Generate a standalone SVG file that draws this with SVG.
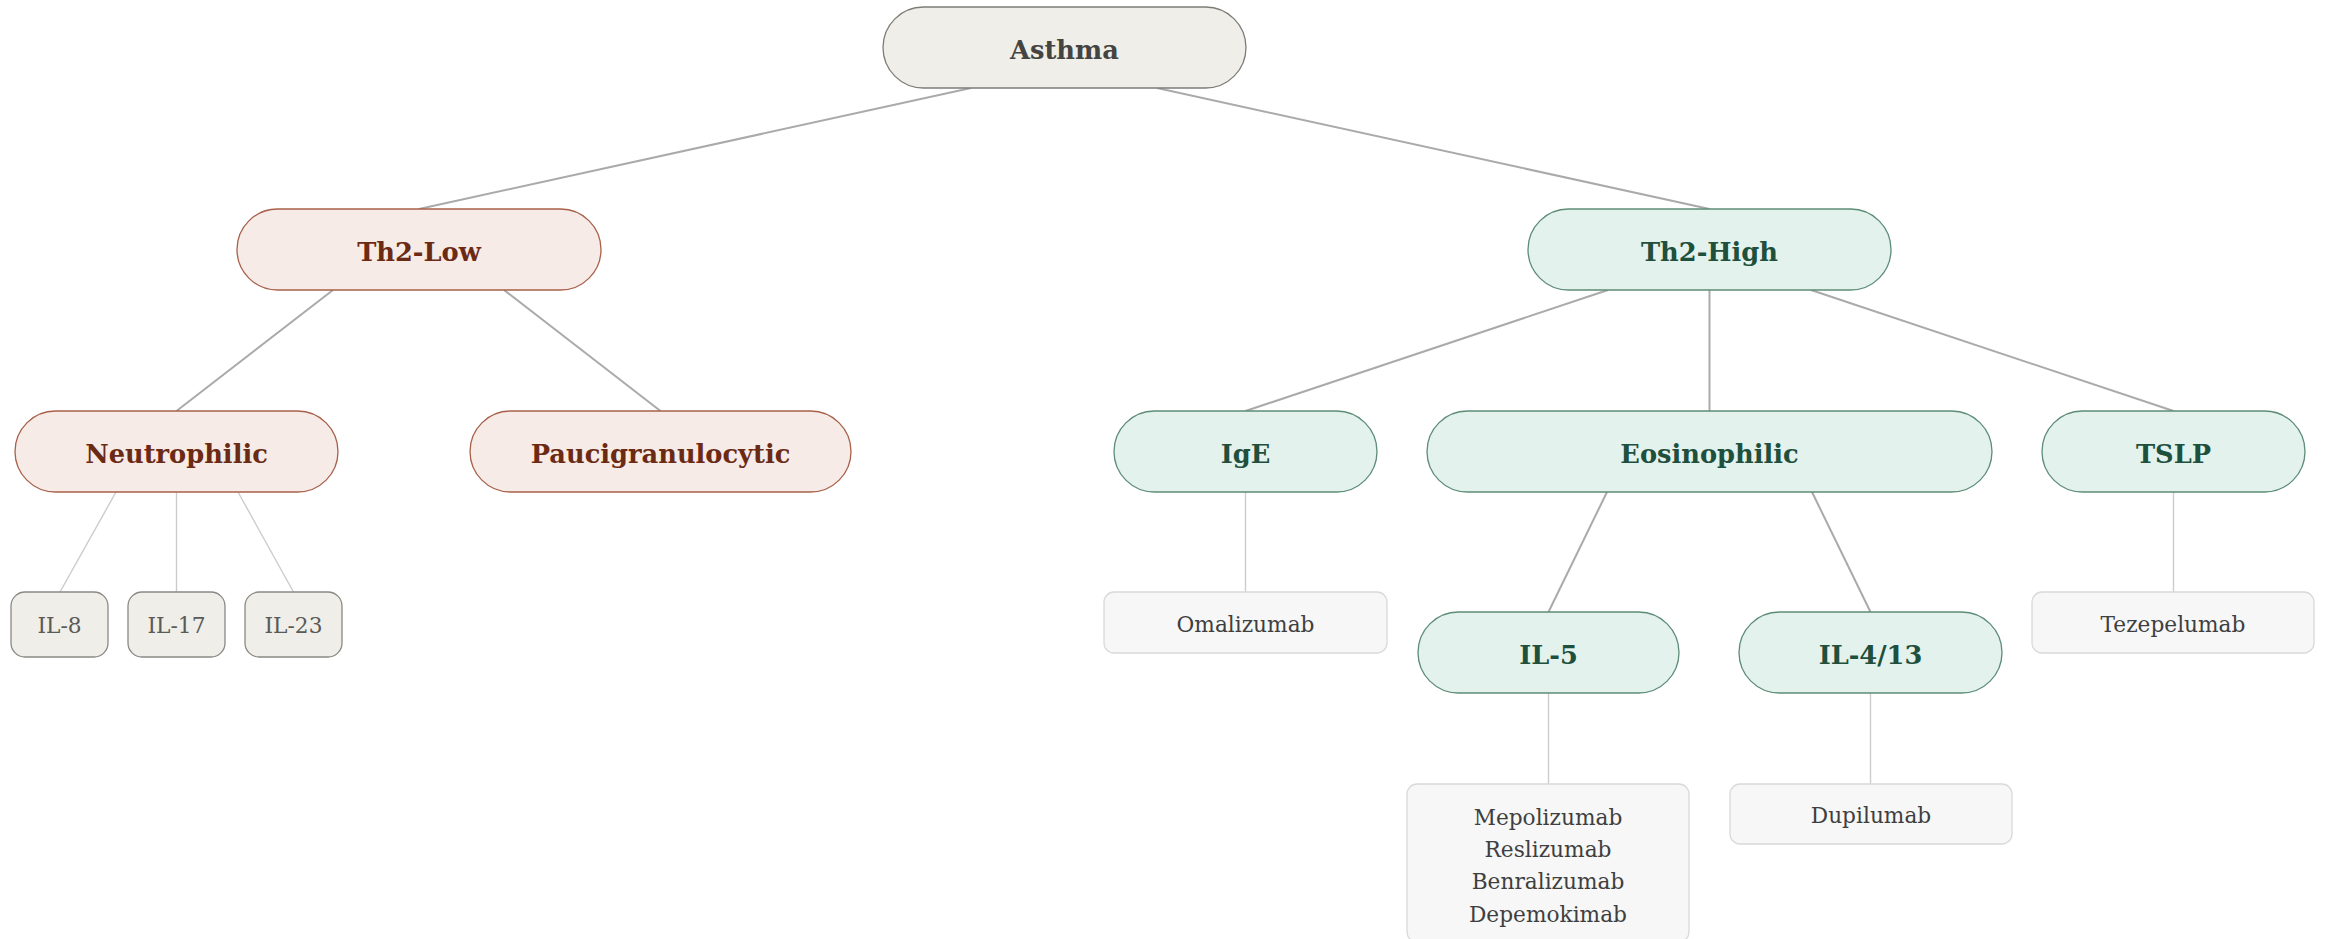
<svg xmlns="http://www.w3.org/2000/svg" width="2325" height="939" viewBox="0 0 2325 939">
<style>
text{font-family:"DejaVu Serif","Liberation Serif",serif;text-anchor:middle}
.b{font-weight:bold;font-size:25.7px}
.r{font-size:21.7px}
.root rect{fill:#efeee9;stroke:#7d7c77;stroke-width:1.3}
.root text{fill:#444441}
.low rect{fill:#f7ebe7;stroke:#a8604a;stroke-width:1.3}
.low text{fill:#6b2a14}
.high rect{fill:#e3f2ec;stroke:#5d8c77;stroke-width:1.3}
.high text{fill:#1f4f3d}
.cyt rect{fill:#efeee9;stroke:#8a8984;stroke-width:1.3}
.cyt text{fill:#5a5a57}
.drug rect{fill:#f7f7f7;stroke:#d9d9d9;stroke-width:1.3}
.drug text{fill:#3f3f3f}
.main line{stroke:#aaaaaa;stroke-width:2}
.leaf line{stroke:#cccccc;stroke-width:1.4}
</style>
<g id="connectors">
<g class="main">
<line x1="971" y1="88" x2="419" y2="209"/>
<line x1="1157" y1="88" x2="1709.5" y2="209"/>
<line x1="333" y1="290" x2="176.5" y2="411"/>
<line x1="504" y1="290" x2="660.5" y2="411"/>
<line x1="1608" y1="290" x2="1245.5" y2="411"/>
<line x1="1709.5" y1="290" x2="1709.5" y2="411"/>
<line x1="1811" y1="290" x2="2173.5" y2="411"/>
<line x1="1607" y1="492" x2="1548.5" y2="612"/>
<line x1="1812" y1="492" x2="1870.5" y2="612"/>
</g>
<g class="leaf">
<line x1="116" y1="492" x2="60" y2="592"/>
<line x1="176.5" y1="492" x2="176.5" y2="592"/>
<line x1="238" y1="492" x2="293.5" y2="592"/>
<line x1="1245.5" y1="492" x2="1245.5" y2="592"/>
<line x1="2173.5" y1="492" x2="2173.5" y2="592"/>
<line x1="1548.5" y1="693" x2="1548.5" y2="784"/>
<line x1="1870.5" y1="693" x2="1870.5" y2="784"/>
</g>
</g>
<g id="asthma" class="root"><rect x="883" y="7" width="363" height="81" rx="40.5"/><text class="b" x="1064.5" y="58.5">Asthma</text></g>
<g id="th2low" class="low"><rect x="237" y="209" width="364" height="81" rx="40.5"/><text class="b" x="419" y="260.5">Th2-Low</text></g>
<g id="th2high" class="high"><rect x="1528" y="209" width="363" height="81" rx="40.5"/><text class="b" x="1709.5" y="260.5">Th2-High</text></g>
<g id="neutrophilic" class="low"><rect x="15" y="411" width="323" height="81" rx="40.5"/><text class="b" x="176.5" y="462.5">Neutrophilic</text></g>
<g id="pauci" class="low"><rect x="470" y="411" width="381" height="81" rx="40.5"/><text class="b" x="660.5" y="462.5">Paucigranulocytic</text></g>
<g id="ige" class="high"><rect x="1114" y="411" width="263" height="81" rx="40.5"/><text class="b" x="1245.5" y="462.5">IgE</text></g>
<g id="eosinophilic" class="high"><rect x="1427" y="411" width="565" height="81" rx="40.5"/><text class="b" x="1709.5" y="462.5">Eosinophilic</text></g>
<g id="tslp" class="high"><rect x="2042" y="411" width="263" height="81" rx="40.5"/><text class="b" x="2173.5" y="462.5">TSLP</text></g>
<g id="il8" class="cyt"><rect x="11" y="592" width="97" height="65" rx="14"/><text class="r" x="59.5" y="632.5">IL-8</text></g>
<g id="il17" class="cyt"><rect x="128" y="592" width="97" height="65" rx="14"/><text class="r" x="176.5" y="632.5">IL-17</text></g>
<g id="il23" class="cyt"><rect x="245" y="592" width="97" height="65" rx="14"/><text class="r" x="293.5" y="632.5">IL-23</text></g>
<g id="omalizumab" class="drug"><rect x="1104" y="592" width="283" height="61" rx="10"/><text class="r" x="1245.5" y="632">Omalizumab</text></g>
<g id="tezepelumab" class="drug"><rect x="2032" y="592" width="282" height="61" rx="10"/><text class="r" x="2173" y="632">Tezepelumab</text></g>
<g id="il5" class="high"><rect x="1418" y="612" width="261" height="81" rx="40.5"/><text class="b" x="1548.5" y="663.5">IL-5</text></g>
<g id="il413" class="high"><rect x="1739" y="612" width="263" height="81" rx="40.5"/><text class="b" x="1870.5" y="663.5">IL-4/13</text></g>
<g id="il5drugs" class="drug"><rect x="1407" y="784" width="282" height="158" rx="10"/><text class="r" x="1548" y="825">Mepolizumab</text><text class="r" x="1548" y="857">Reslizumab</text><text class="r" x="1548" y="889">Benralizumab</text><text class="r" x="1548" y="921.5">Depemokimab</text></g>
<g id="dupilumab" class="drug"><rect x="1730" y="784" width="282" height="60" rx="10"/><text class="r" x="1871" y="823">Dupilumab</text></g>
</svg>
